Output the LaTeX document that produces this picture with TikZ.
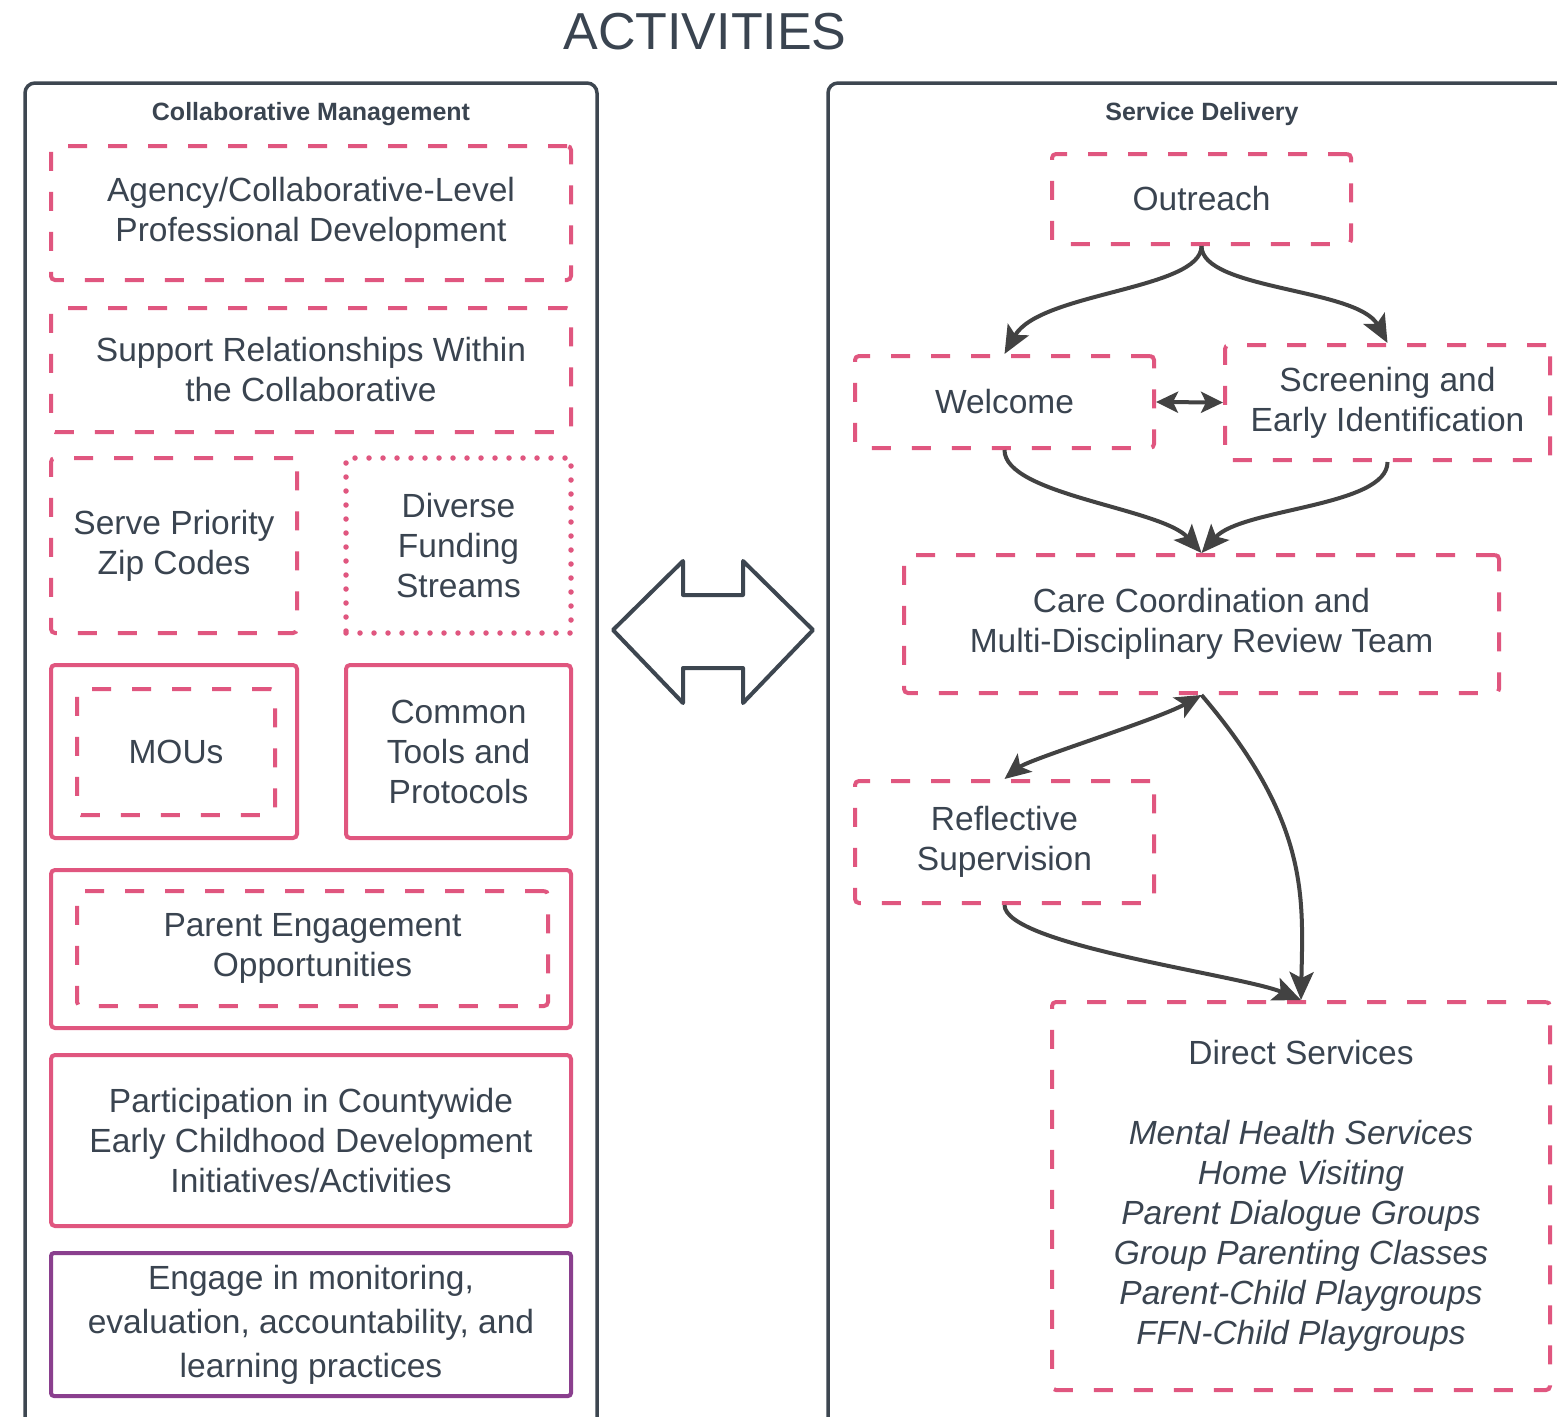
\documentclass[tikz,border=0pt]{standalone}
\usepackage{fontspec}
\setmainfont{Liberation Sans}
\usetikzlibrary{arrows.meta}
\definecolor{pinkc}{HTML}{E0567F}
\definecolor{txt}{HTML}{3A4450}
\definecolor{framec}{HTML}{3D4650}
\definecolor{purp}{HTML}{8A3F8E}
\definecolor{arr}{HTML}{424242}
\begin{document}
\begin{tikzpicture}[x=1pt,y=-1pt,
  every node/.style={font=\fontsize{33.5}{40}\selectfont, text=txt, align=center, inner sep=0pt},
  dbox/.style={draw=pinkc, line width=4pt, dash pattern=on 19pt off 21pt, rounded corners=4pt},
  dotbox/.style={draw=pinkc, line width=5.5pt, dash pattern=on 0pt off 14pt, line cap=round},
  sbox/.style={draw=pinkc, line width=4pt, rounded corners=4pt},
  pbox/.style={draw=purp, line width=4pt, rounded corners=3pt},
  container/.style={draw=framec, line width=3.5pt, rounded corners=10pt},
  header/.style={font=\bfseries\fontsize{25}{30}\selectfont},
  conn/.style={draw=arr, line width=4pt, -{Stealth[length=28pt,width=24pt,inset=6pt]}},
  dconn/.style={draw=arr, line width=4pt, {Stealth[length=26pt,width=23pt,inset=6pt]}-{Stealth[length=26pt,width=23pt,inset=6pt]}},
  sconn/.style={draw=arr, line width=4pt, {Stealth[length=22pt,width=21pt,inset=5pt]}-{Stealth[length=22pt,width=21pt,inset=5pt]}}
]
\fill[white] (0,0) rectangle (1557,1416);
\useasboundingbox (0,0) rectangle (1557,1416);

\node[font=\fontsize{52}{60}\selectfont] (title) at (705,32) {ACTIVITIES};

% containers
\node[container, minimum width=572, minimum height=1380] (leftc) at (311,773) {};
\node[container, minimum width=760, minimum height=1380] (rightc) at (1208,773) {};
\node[header] (hleft) at (311,114) {Collaborative Management};
\node[header] (hright) at (1202,114) {Service Delivery};

% left column
\node[dbox, minimum width=520, minimum height=134] (agency) at (311,213) {Agency/Collaborative-Level\\Professional Development};
\node[dbox, minimum width=520, minimum height=124] (support) at (311,370) {Support Relationships Within\\the Collaborative};
\node[dbox, minimum width=246, minimum height=175] (serve) at (174,545.5) {Serve Priority\\Zip Codes};
\node[dotbox, minimum width=225, minimum height=175] (diverse) at (458.5,545.5) {Diverse\\Funding\\Streams};
\node[sbox, minimum width=246, minimum height=173] (mouout) at (174,751.5) {};
\node[dbox, minimum width=198, minimum height=126] (mou) at (176,752) {MOUs};
\node[sbox, minimum width=225, minimum height=173] (common) at (458.5,751.5) {Common\\Tools and\\Protocols};
\node[sbox, minimum width=520, minimum height=158] (parentout) at (311,949) {};
\node[dbox, minimum width=471, minimum height=115] (parent) at (312.5,948.5) {Parent Engagement\\Opportunities};
\node[sbox, minimum width=520, minimum height=171] (particip) at (311,1140.5) {Participation in Countywide\\Early Childhood Development\\Initiatives/Activities};
\node[pbox, minimum width=520, minimum height=143, font=\fontsize{33.5}{44}\selectfont] (engage) at (311,1324.5) {Engage in monitoring,\\evaluation, accountability, and\\learning practices};

% big double arrow
\draw[framec, line width=4pt, line join=round] (613,630) -- (683,561) -- (683,595) -- (743,595) -- (743,561) -- (813,630) -- (743,703) -- (743,668) -- (683,668) -- (683,703) -- cycle;

% right column
\node[dbox, minimum width=299, minimum height=90] (outreach) at (1201.5,199) {Outreach};
\node[dbox, minimum width=299, minimum height=92] (welcome) at (1004.5,402) {Welcome};
\node[dbox, minimum width=325, minimum height=115] (screen) at (1387.5,402.5) {Screening and\\Early Identification};
\node[dbox, minimum width=595, minimum height=138] (care) at (1201.5,624) {Care Coordination and\\Multi-Disciplinary Review Team};
\node[dbox, minimum width=299, minimum height=122] (reflect) at (1004.5,842) {Reflective\\Supervision};
\node[dbox, minimum width=498, minimum height=388] (direct) at (1301,1196) {Direct Services\\[40pt]\textit{Mental Health Services}\\\textit{Home Visiting}\\\textit{Parent Dialogue Groups}\\\textit{Group Parenting Classes}\\\textit{Parent-Child Playgroups}\\\textit{FFN-Child Playgroups}};

% connectors
\draw[conn] (outreach.south) .. controls +(0,44) and +(35,-62) .. (welcome.north);
\draw[conn] (outreach.south) .. controls +(0,44) and +(-30,-55) .. (screen.north);
\draw[sconn] (welcome.east) -- (screen.west);
\draw[conn] (welcome.south) .. controls +(0,45) and +(-40,-45) .. (care.north);
\draw[conn] (screen.south) .. controls +(0,45) and +(40,-45) .. (care.north);
\draw[dconn] (reflect.north) .. controls +(25,-20) and +(-45,25) .. (care.south);
\draw[conn] (care.south) .. controls +(108.5,127) and +(2,-102) .. (direct.north);
\draw[conn] (reflect.south) .. controls +(0,40) and +(-60,-25) .. (direct.north);
\end{tikzpicture}
\end{document}
